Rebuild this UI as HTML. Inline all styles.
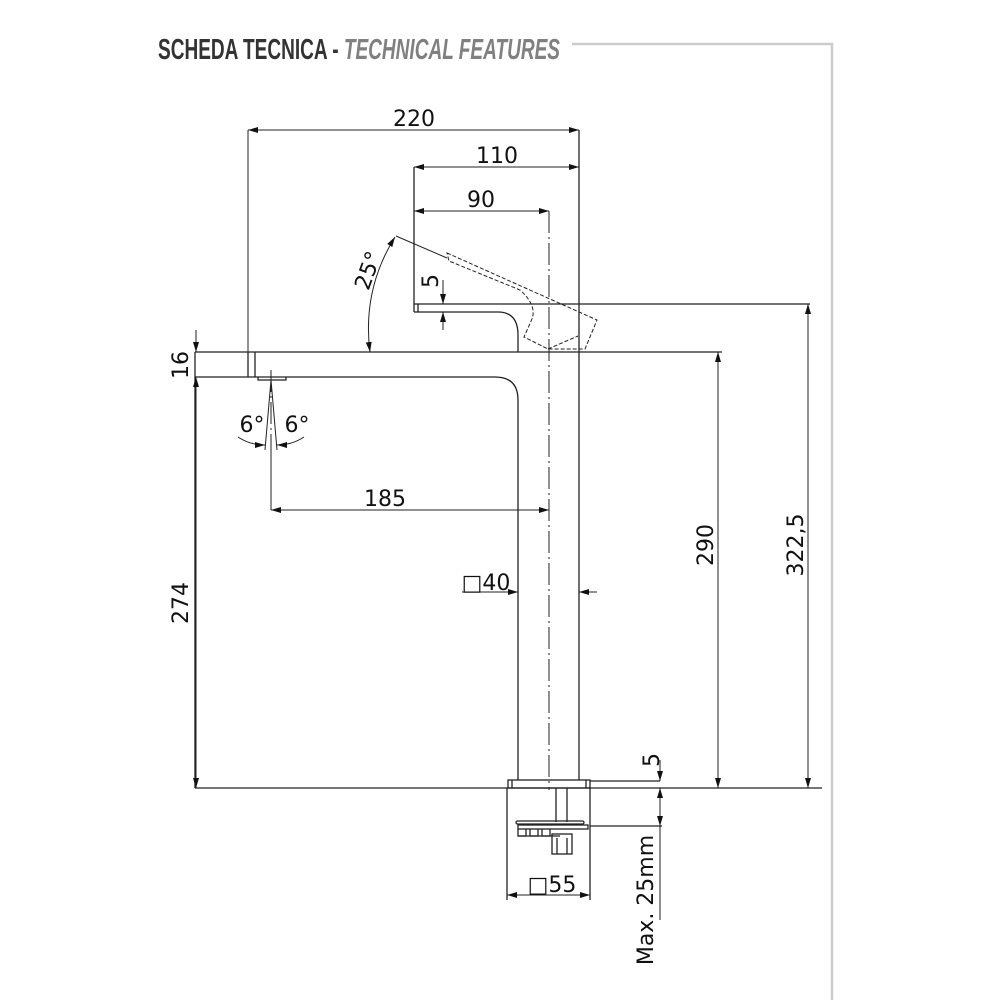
<!DOCTYPE html>
<html><head><meta charset="utf-8"><style>
html,body{margin:0;padding:0;background:#fff;}
svg{display:block;}
text{font-family:"DejaVu Sans","Liberation Sans",sans-serif;fill:#111;}
</style></head><body>
<svg width="1000" height="1000" viewBox="0 0 1000 1000" xmlns="http://www.w3.org/2000/svg">
<defs>
<marker id="a" viewBox="0 0 10 6" refX="10" refY="3" markerWidth="10" markerHeight="6" orient="auto-start-reverse" markerUnits="userSpaceOnUse"><path d="M0,0 L10,3 L0,6 z" fill="#111"/></marker>
</defs>
<!-- title -->
<text x="158" y="59" textLength="402" lengthAdjust="spacingAndGlyphs" style="font-family:'Liberation Sans',sans-serif;font-weight:bold;font-size:29px;fill:#333">SCHEDA TECNICA - <tspan font-style="italic" fill="#808080">TECHNICAL FEATURES</tspan></text>
<polyline points="572,44 832,44 832,1000" fill="none" stroke="#ccc" stroke-width="2.5"/>

<g stroke="#222" stroke-width="1.3" fill="none">
<line x1="195" y1="352" x2="722" y2="352"/>
<path d="M195,377 H495 Q518,377 518,400 V780"/>
<line x1="195" y1="352" x2="195" y2="788"/>
<line x1="248" y1="352" x2="248" y2="377"/>
<line x1="255" y1="352" x2="255" y2="377"/>
<path d="M258,377 v3 h28 v-3"/>
<line x1="579" y1="130" x2="579" y2="780"/>
<line x1="414" y1="167" x2="414" y2="312"/>
<line x1="414" y1="304" x2="810" y2="304"/>
<line x1="418" y1="304" x2="418" y2="312"/>
<path d="M414,312 H498 Q518,312 518,335 V352"/>
<rect x="508" y="780" width="82" height="8"/>
<line x1="512" y1="780" x2="512" y2="788"/>
<line x1="586" y1="780" x2="586" y2="788"/>
<line x1="590" y1="781" x2="660" y2="781"/>
<line x1="195" y1="788" x2="822" y2="788"/>
<line x1="507" y1="788" x2="507" y2="900"/>
<line x1="590" y1="788" x2="590" y2="900"/>
<line x1="556" y1="788" x2="556" y2="822"/>
<line x1="567" y1="788" x2="567" y2="822"/>
<rect x="516" y="821" width="68" height="3" rx="1.5"/>
<rect x="518" y="825" width="70" height="4"/>
<path d="M518,829 v7 h8 v-7 M530,829 v7 h8 v-7 M542,829 v7 h8 v-7"/>
<line x1="518" y1="836" x2="560" y2="836"/>
<rect x="552" y="834" width="20" height="20"/>
<line x1="557" y1="838" x2="557" y2="854"/>
<line x1="567" y1="838" x2="567" y2="854"/>
<line x1="590" y1="826" x2="662" y2="826"/>
</g>
<g stroke="#222" stroke-width="1" fill="none" stroke-dasharray="4,2">
<path d="M447,253 L597,320 L585,349 L548,349 L524,337 L532,319 Q537,305 520,290 L449,261 z"/>
<path d="M548,349 L578,336"/>
</g>
<g stroke="#222" stroke-width="1" stroke-dasharray="22,4,2,4">
<line x1="549" y1="211" x2="549" y2="790"/>
<line x1="271" y1="370" x2="271" y2="455"/>
</g>
<g stroke="#222" stroke-width="1" fill="none">
<line x1="248" y1="130" x2="248" y2="352"/>
<line x1="248" y1="130" x2="579" y2="130" marker-start="url(#a)" marker-end="url(#a)"/>
<line x1="414" y1="167" x2="579" y2="167" marker-start="url(#a)" marker-end="url(#a)"/>
<line x1="414" y1="211" x2="549" y2="211" marker-start="url(#a)" marker-end="url(#a)"/>
<line x1="271" y1="455" x2="271" y2="510"/>
<line x1="271" y1="510" x2="549" y2="510" marker-start="url(#a)" marker-end="url(#a)"/>
<line x1="462" y1="592" x2="518" y2="592" marker-end="url(#a)"/>
<line x1="597" y1="592" x2="579" y2="592" marker-end="url(#a)"/>
<line x1="718" y1="352" x2="718" y2="788" marker-start="url(#a)" marker-end="url(#a)"/>
<line x1="808" y1="304" x2="808" y2="788" marker-start="url(#a)" marker-end="url(#a)"/>
<line x1="196" y1="377" x2="196" y2="788" marker-start="url(#a)" marker-end="url(#a)"/>
<line x1="196" y1="330" x2="196" y2="352" marker-end="url(#a)"/>
<line x1="443" y1="280" x2="443" y2="304" marker-end="url(#a)"/>
<line x1="443" y1="330" x2="443" y2="312" marker-end="url(#a)"/>
<line x1="660" y1="760" x2="660" y2="781" marker-end="url(#a)"/>
<line x1="660" y1="788" x2="660" y2="826" marker-start="url(#a)" marker-end="url(#a)"/>
<line x1="660" y1="826" x2="660" y2="920"/>
<line x1="507" y1="895" x2="590" y2="895" marker-start="url(#a)" marker-end="url(#a)"/>
<line x1="396" y1="236" x2="447" y2="258"/>
<path d="M395,237 Q362,290 370,352" marker-start="url(#a)" marker-end="url(#a)"/>
<line x1="271" y1="380" x2="265" y2="450"/>
<line x1="271" y1="380" x2="277" y2="450"/>
<path d="M238,437 Q250,445 265,445" marker-end="url(#a)"/>
<path d="M304,437 Q292,445 277,445" marker-end="url(#a)"/>
</g>
<g font-size="22">
<text x="414" y="126" text-anchor="middle">220</text>
<text x="497" y="163" text-anchor="middle">110</text>
<text x="481" y="207" text-anchor="middle">90</text>
<text x="385" y="506" text-anchor="middle">185</text>
<text x="486" y="590" text-anchor="middle">□40</text>
<text x="552" y="892" text-anchor="middle">□55</text>
<text transform="translate(713,545) rotate(-90)" text-anchor="middle">290</text>
<text transform="translate(803,545) rotate(-90)" text-anchor="middle">322,5</text>
<text transform="translate(188,603) rotate(-90)" text-anchor="middle">274</text>
<text transform="translate(188,365) rotate(-90)" text-anchor="middle">16</text>
<text transform="translate(438,281) rotate(-90)" text-anchor="middle">5</text>
<text transform="translate(659,760) rotate(-90)" text-anchor="middle">5</text>
<text transform="translate(653,900) rotate(-90)" text-anchor="middle">Max. 25mm</text>
<text transform="translate(375,273) rotate(-70)" text-anchor="middle">25°</text>
<text x="252" y="432" text-anchor="middle">6°</text>
<text x="297" y="432" text-anchor="middle">6°</text>
</g>
</svg>
</body></html>
